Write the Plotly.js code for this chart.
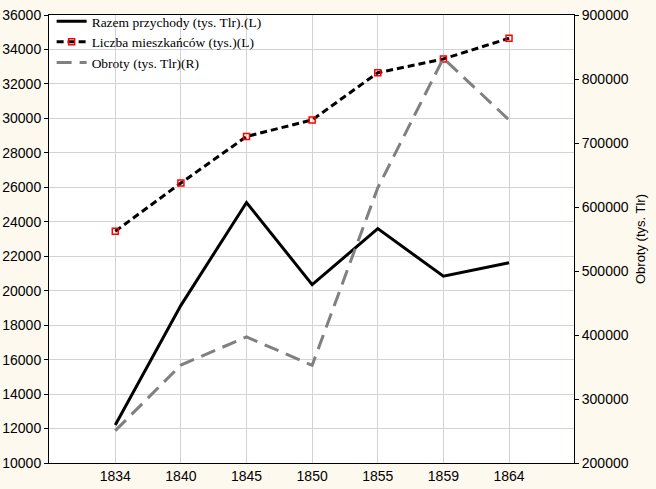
<!DOCTYPE html>
<html>
<head>
<meta charset="utf-8">
<script src="https://cdn.plot.ly/plotly-3.0.1.min.js"></script>
<style>html,body{margin:0;padding:0;background:#FEF9EF;}#chart{width:656px;height:489px;}</style>
</head>
<body>
<div id="chart"></div>
<script>
const years = ["1834", "1840", "1845", "1850", "1855", "1859", "1864"];
const razemPrzychody = [12200, 19150, 25120, 20350, 23600, 20840, 21620];
const liczbaMieszkancow = [23450, 26250, 28950, 29910, 32650, 33450, 34650];
const obroty = [250500, 353000, 397000, 352600, 630000, 832400, 736100];

const leftTicks = [10000, 12000, 14000, 16000, 18000, 20000, 22000, 24000, 26000, 28000, 30000, 32000, 34000, 36000];
const rightTicks = [200000, 300000, 400000, 500000, 600000, 700000, 800000, 900000];

const traces = [
  {
    x: years, y: razemPrzychody, name: "Razem przychody (tys. Tlr).(L)",
    type: "scatter", mode: "lines",
    line: {color: "#000000", width: 3}
  },
  {
    x: years, y: liczbaMieszkancow, name: "Liczba mieszkańców (tys.)(L)",
    type: "scatter", mode: "lines+markers",
    line: {color: "#000000", width: 3, dash: "7px,4px"},
    marker: {symbol: "square-open", size: 6, color: "#FF0000", line: {color: "#FF0000", width: 1.5}}
  },
  {
    x: years, y: obroty, name: "Obroty (tys. Tlr)(R)", yaxis: "y2",
    type: "scatter", mode: "lines",
    line: {color: "#808080", width: 3, dash: "15px,8px"}
  }
];

const layout = {
  width: 656, height: 489,
  paper_bgcolor: "#FEF9EF",
  plot_bgcolor: "#FFFFFF",
  margin: {l: 49, r: 82, t: 15, b: 26, pad: 0, autoexpand: false},
  font: {family: "Liberation Sans, Arial, sans-serif", size: 14, color: "#000000"},
  showlegend: true,
  legend: {
    x: 0.005, y: 1.02, xanchor: "left", yanchor: "top",
    bgcolor: "rgba(0,0,0,0)", borderwidth: 0,
    font: {family: "Liberation Serif, Times New Roman, serif", size: 13.5, color: "#000000"},
    tracegroupgap: 0, itemwidth: 30
  },
  xaxis: {
    type: "category", range: [-1.01, 6.99],
    showgrid: true, gridcolor: "#D3D3D3", gridwidth: 1,
    showline: true, linecolor: "#000000", linewidth: 1, mirror: true,
    ticks: "", tickfont: {size: 14}, zeroline: false, fixedrange: true, automargin: false
  },
  yaxis: {
    range: [10000, 36000], tickvals: leftTicks, ticktext: leftTicks.map(String),
    showgrid: true, gridcolor: "#D3D3D3", gridwidth: 1,
    showline: true, linecolor: "#000000", linewidth: 1,
    ticks: "outside", ticklen: 4, tickcolor: "#000000",
    tickfont: {size: 14}, zeroline: false, automargin: false
  },
  yaxis2: {
    overlaying: "y", side: "right",
    range: [200000, 900000], tickvals: rightTicks, ticktext: rightTicks.map(String),
    showgrid: false,
    showline: true, linecolor: "#000000", linewidth: 1,
    ticks: "outside", ticklen: 4, tickcolor: "#000000",
    tickfont: {size: 14}, zeroline: false, automargin: false,
    title: {text: "Obroty (tys. Tlr)", font: {size: 13}, standoff: 8}
  }
};

Plotly.newPlot("chart", traces, layout, {displayModeBar: false, staticPlot: true});
</script>
</body>
</html>
